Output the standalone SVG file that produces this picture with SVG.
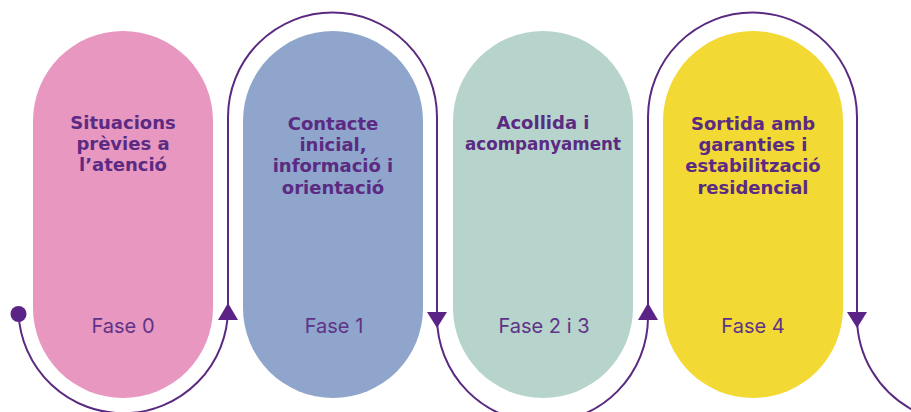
<svg xmlns="http://www.w3.org/2000/svg" width="911" height="412" viewBox="0 0 911 412">
<style>
.title{font-family:"DejaVu Sans","Liberation Sans",sans-serif;font-weight:700;font-size:18px;fill:#5b2a82;text-anchor:middle}
.fase{font-family:Inter,"Liberation Sans",sans-serif;font-weight:400;font-size:20px;fill:#5e3388;text-anchor:middle}
.conn{fill:none;stroke:#5a2a80;stroke-width:2}
.arrow{fill:#5c2386}
</style>
<rect width="911" height="412" fill="#ffffff"/>
<g id="connectors">
<path class="conn" d="M18.5,313 A104.8,104.8 0 0 0 228,309 L228,117 A104.5,104.5 0 0 1 437,117 L437,317 A105.5,105.5 0 0 0 648,317 L648,117 A104.5,104.5 0 0 1 857,117 L857,317 A105.5,105.5 0 0 0 912,409.6"/>
<circle class="arrow" cx="18.5" cy="314" r="8"/>
<polygon class="arrow" points="228,303 218,320 238,320"/>
<polygon class="arrow" points="437,328 427,312 447,312"/>
<polygon class="arrow" points="648,303 638,320 658,320"/>
<polygon class="arrow" points="857,328 847,312 867,312"/>
</g>
<g id="fase0">
<rect x="33" y="31" width="180" height="367" rx="90" fill="#e897c0"/>
<text class="title" x="123" y="129"><tspan x="123">Situacions</tspan><tspan x="123" dy="21.2">prèvies a</tspan><tspan x="123" dy="21.2">l’atenció</tspan></text>
<text class="fase" x="123" y="333">Fase 0</text>
</g>
<g id="fase1">
<rect x="243" y="31" width="180" height="367" rx="90" fill="#8fa5cb"/>
<text class="title" x="333" y="130"><tspan x="333">Contacte</tspan><tspan x="333" dy="21.2">inicial,</tspan><tspan x="333" dy="21.2">informació i</tspan><tspan x="333" dy="21.2">orientació</tspan></text>
<text class="fase" x="334" y="333">Fase 1</text>
</g>
<g id="fase23">
<rect x="453" y="31" width="180" height="367" rx="90" fill="#b6d4cb"/>
<text class="title" x="543" y="129"><tspan x="543">Acollida i</tspan><tspan x="543" dy="21.2" textLength="156" lengthAdjust="spacingAndGlyphs">acompanyament</tspan></text>
<text class="fase" x="544" y="333">Fase 2 i 3</text>
</g>
<g id="fase4">
<rect x="663" y="31" width="180" height="367" rx="90" fill="#f3d934"/>
<text class="title" x="753" y="130"><tspan x="753">Sortida amb</tspan><tspan x="753" dy="21.2">garanties i</tspan><tspan x="753" dy="21.2">estabilització</tspan><tspan x="753" dy="21.2">residencial</tspan></text>
<text class="fase" x="753" y="333">Fase 4</text>
</g>
</svg>
